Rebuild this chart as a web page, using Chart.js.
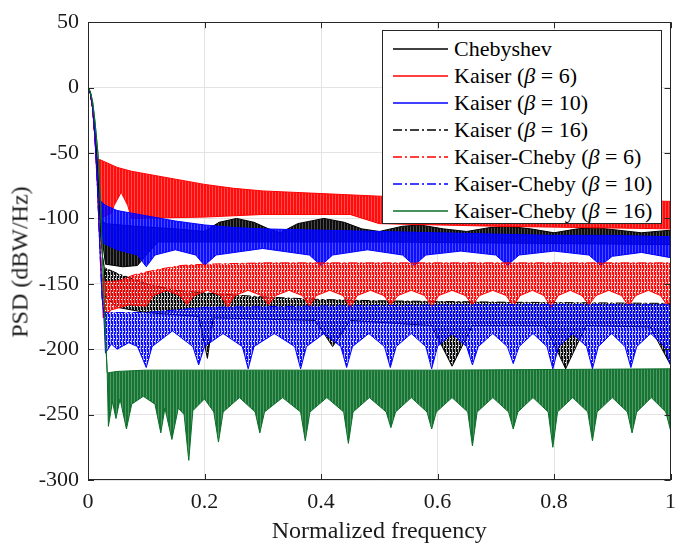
<!DOCTYPE html>
<html lang="en">
<head>
<meta charset="UTF-8">
<title>PSD comparison</title>
<script src="https://cdn.jsdelivr.net/npm/chart.js"></script>
<style>
    body { margin: 0; background: #fff; }
    .wrap { position: relative; width: 685px; height: 547px;
            font-family: "Liberation Serif", "Times New Roman", Times, Tinos, "Nimbus Roman", "DejaVu Serif", serif; color: #1a1a1a; }
    .legend { position: absolute; left: 382px; top: 30px; width: 280px; height: 194px; border: 1px solid #262626; background: #fff;
              font-size: 22px; color: #000; padding-top: 4px; box-sizing: border-box; white-space: nowrap; }
    .row { height: 27px; display: flex; align-items: center; }
    .row svg { margin-left: 10px; margin-right: 6px; flex: none; }
    .row i { font-style: italic; }
    .ytitle { position: absolute; left: 20px; top: 262px; font-size: 24px; white-space: nowrap;
              transform: translate(-50%, -50%) rotate(-90deg); }
</style>
</head>
<body>
<div class="wrap">
    <canvas id="c" width="685" height="547"></canvas>
    <div class="ytitle">PSD (dBW/Hz)</div>
    <div class="legend" id="legend"></div>
</div>
<script>
// axis ticks
const xTicks = [0, 0.2, 0.4, 0.6, 0.8, 1];
const xTickLabels = ['0', '0.2', '0.4', '0.6', '0.8', '1'];
const yTicks = [50, 0, -50, -100, -150, -200, -250, -300];

// [normalized frequency, dBW/Hz] - main lobe, upper edge and lower edge of each trace
const chebyLobe = [[0,0],[0.004,-4],[0.008,-16],[0.012,-38],[0.016,-65],[0.02,-100]];
const chebyTop = [[0.03,-104],[0.08,-106],[0.15,-108],[0.2,-110],[0.225,-103],[0.255,-100],[0.285,-103],[0.31,-108],[0.33,-111],
    [0.36,-104],[0.405,-100],[0.44,-103],[0.47,-108],[0.5,-110],[0.54,-106],[0.57,-105],[0.61,-108],[0.65,-110],[0.69,-107],
    [0.72,-106],[0.76,-108],[0.8,-111],[0.84,-108],[0.87,-107],[0.91,-109],[0.95,-111],[1.0,-109]];
const chebyLow = [[0.03,-135],[0.06,-137],[0.085,-136],[0.1,-128],[0.12,-118],[0.5,-118],[1.0,-120]];

const kaiser6Lobe = [[0,0],[0.004,-4],[0.008,-16],[0.012,-38],[0.016,-55]];
const kaiser6Top = [[0.02,-55],[0.03,-57],[0.05,-61],[0.075,-64],[0.1,-66],[0.15,-70],[0.2,-74],[0.25,-77],[0.3,-79],
    [0.4,-81],[0.5,-83],[0.6,-84],[0.7,-85],[0.8,-86],[0.9,-86],[1.0,-87]];
const kaiser6Low = [[0.02,-100],[0.04,-96],[0.045,-90],[0.057,-80],[0.068,-90],[0.075,-100],[0.2,-99],[0.3,-97],[0.45,-97],
    [0.5,-104],[0.7,-106],[1.0,-108]];

const kaiser10Lobe = [[0,0],[0.004,-4],[0.008,-15],[0.012,-36],[0.016,-62],[0.02,-86]];
const kaiser10Top = [[0.022,-87],[0.03,-90],[0.05,-94],[0.075,-96],[0.1,-98],[0.15,-102],[0.2,-105],[0.25,-107],[0.3,-108],
    [0.4,-109],[0.5,-110],[0.6,-111],[0.7,-112],[0.8,-113],[0.9,-113],[1.0,-114]];
const kaiser10Low = [[0.022,-118],[0.05,-124],[0.085,-128],[0.1,-137],[0.115,-128],[0.15,-124],[0.185,-128],[0.2,-136],
    [0.22,-128],[0.3,-123],[0.38,-128],[0.4,-136],[0.42,-128],[0.48,-124],[0.54,-128],[0.56,-136],[0.58,-128],[0.64,-125],
    [0.7,-128],[0.72,-136],[0.74,-128],[0.8,-125],[0.86,-128],[0.88,-136],[0.9,-129],[0.95,-126],[1.0,-130]];

const kaiser16Lobe = [[0,0],[0.004,-4],[0.008,-15],[0.012,-34],[0.016,-60],[0.02,-95],[0.025,-130],[0.028,-138]];
const kaiser16Top = [[0.03,-138],[0.05,-142],[0.1,-150],[0.15,-155],[0.2,-157],[0.3,-160],[0.4,-162],[0.5,-163],[0.7,-164],[1.0,-165]];
const kaiser16Low = [[0.03,-160],[0.05,-168],[0.1,-172],[0.19,-175],[0.205,-207],[0.215,-176],[0.39,-178],[0.42,-198],
    [0.45,-178],[0.59,-182],[0.625,-213],[0.66,-182],[0.785,-182],[0.82,-215],[0.855,-182],[0.965,-183],[1.0,-212]];

const kc6Lobe = [[0,0],[0.004,-4],[0.008,-16],[0.012,-40],[0.016,-75],[0.02,-115],[0.024,-145]];
const kc6Top = [[0.026,-148],[0.05,-148],[0.08,-143],[0.12,-139],[0.16,-136],[0.2,-135],[0.3,-134],[0.5,-134],[1.0,-134]];
const kc6Low = [[0.026,-176],[0.04,-170],[0.07,-166],
    [0.1,-167],[0.112,-159],[0.135,-155],[0.158,-159],
    [0.17,-166],[0.182,-159],[0.205,-155],[0.228,-159],
    [0.24,-168],[0.252,-159],[0.275,-155],[0.298,-159],
    [0.31,-166],[0.322,-159],[0.345,-155],[0.368,-159],
    [0.38,-167],[0.392,-159],[0.415,-155],[0.438,-159],
    [0.45,-168],[0.462,-159],[0.485,-155],[0.508,-159],
    [0.52,-166],[0.532,-159],[0.555,-155],[0.578,-159],
    [0.59,-167],[0.602,-159],[0.625,-155],[0.648,-159],
    [0.66,-166],[0.672,-159],[0.695,-155],[0.718,-159],
    [0.73,-167],[0.742,-159],[0.763,-155],[0.783,-159],
    [0.795,-168],[0.807,-159],[0.828,-155],[0.848,-159],
    [0.86,-166],[0.872,-159],[0.894,-155],[0.916,-159],
    [0.928,-167],[0.94,-159],[0.962,-155],[0.983,-159],
    [0.995,-167],[1.0,-162]];

const kc10Lobe = [[0,0],[0.004,-4],[0.008,-15],[0.012,-38],[0.016,-72],[0.02,-120],[0.024,-160],[0.027,-172]];
const kc10Top = [[0.03,-172],[0.1,-172],[0.2,-168],[0.4,-167],[0.7,-166],[1.0,-166]];
const kc10Low = [[0.03,-203],[0.04,-196],[0.05,-200],[0.07,-195],[0.085,-198],
    [0.1,-214],[0.11,-198],[0.145,-186],[0.18,-198],
    [0.19,-212],[0.2,-198],[0.232,-188],[0.265,-198],
    [0.275,-215],[0.285,-198],[0.32,-188],[0.355,-198],
    [0.365,-215],[0.375,-198],[0.405,-188],[0.434,-198],
    [0.444,-214],[0.454,-198],[0.482,-188],[0.509,-198],
    [0.519,-214],[0.529,-198],[0.555,-188],[0.58,-198],
    [0.59,-215],[0.6,-198],[0.625,-188],[0.65,-198],
    [0.66,-212],[0.67,-198],[0.695,-188],[0.72,-198],
    [0.73,-211],[0.74,-198],[0.764,-188],[0.788,-198],
    [0.798,-215],[0.808,-198],[0.832,-188],[0.856,-198],
    [0.866,-215],[0.876,-198],[0.899,-188],[0.922,-198],
    [0.932,-214],[0.942,-198],[0.966,-188],[0.99,-198],
    [1.0,-212]];

const kc16Lobe = [[0,0],[0.004,-3],[0.008,-11],[0.012,-26],[0.017,-50],[0.02,-75],[0.025,-130],[0.03,-190],[0.033,-218]];
const kc16Top = [[0.035,-218],[0.05,-217],[0.1,-216],[0.3,-216],[0.6,-216],[1.0,-215]];
const kc16Low = [[0.035,-259],[0.042,-240],[0.048,-253],[0.055,-238],[0.066,-261],[0.075,-242],[0.095,-236],[0.115,-242],
    [0.125,-264],[0.132,-245],[0.144,-269],[0.155,-245],[0.165,-250],[0.173,-285],[0.18,-247],[0.2,-238],[0.216,-248],
    [0.224,-271],[0.232,-248],[0.26,-237],[0.287,-248],[0.295,-264],[0.303,-248],[0.334,-237],[0.365,-248],
    [0.373,-270],[0.381,-248],[0.41,-237],[0.439,-248],[0.447,-272],[0.455,-248],[0.483,-237],[0.512,-248],
    [0.52,-260],[0.528,-248],[0.555,-237],[0.582,-248],[0.59,-261],[0.598,-248],[0.625,-237],[0.652,-248],
    [0.66,-274],[0.668,-248],[0.695,-237],[0.722,-248],[0.73,-261],[0.738,-248],[0.764,-237],[0.79,-248],
    [0.798,-275],[0.806,-248],[0.832,-237],[0.858,-248],[0.866,-270],[0.874,-248],[0.9,-237],[0.926,-248],
    [0.934,-264],[0.942,-248],[0.967,-237],[0.992,-248],[1.0,-262]];

// fine vertical hatching stands in for the dense ripple of each trace
function ripple(rgb, solid) {
    const c = document.createElement('canvas');
    c.width = 3; c.height = 7;
    const g = c.getContext('2d');
    g.fillStyle = 'rgba(' + rgb + ',0.95)';
    g.fillRect(0, 0, 2, 7);
    g.fillStyle = 'rgba(' + rgb + ',' + (solid ? 0.7 : 0.3) + ')';
    g.fillRect(2, 0, 1, 7);
    if (!solid) {
        g.clearRect(0, 2, 1, 1);
        g.clearRect(1, 5, 1, 1);
    }
    return g.createPattern(c, 'repeat');
}

const dashDot = [9, 3, 2, 3];
const traces = [
    { label: 'Chebyshev', html: 'Chebyshev', color: '#000000', rgb: '0,0,0', solid: true, dash: [], lobe: chebyLobe, top: chebyTop, low: chebyLow },
    { label: 'Kaiser (β = 6)', html: 'Kaiser (<i>β</i> = 6)', color: '#ff0000', rgb: '255,0,0', solid: true, dash: [], lobe: kaiser6Lobe, top: kaiser6Top, low: kaiser6Low },
    { label: 'Kaiser (β = 10)', html: 'Kaiser (<i>β</i> = 10)', color: '#0000ff', rgb: '0,0,255', solid: true, dash: [], lobe: kaiser10Lobe, top: kaiser10Top, low: kaiser10Low },
    { label: 'Kaiser (β = 16)', html: 'Kaiser (<i>β</i> = 16)', color: '#000000', rgb: '0,0,0', solid: false, dash: dashDot, lobe: kaiser16Lobe, top: kaiser16Top, low: kaiser16Low },
    { label: 'Kaiser-Cheby (β = 6)', html: 'Kaiser-Cheby (<i>β</i> = 6)', color: '#ff0000', rgb: '255,0,0', solid: false, dash: dashDot, lobe: kc6Lobe, top: kc6Top, low: kc6Low },
    { label: 'Kaiser-Cheby (β = 10)', html: 'Kaiser-Cheby (<i>β</i> = 10)', color: '#0000ff', rgb: '0,0,255', solid: false, dash: dashDot, lobe: kc10Lobe, top: kc10Top, low: kc10Low },
    { label: 'Kaiser-Cheby (β = 16)', html: 'Kaiser-Cheby (<i>β</i> = 16)', color: '#0a6e28', rgb: '10,110,40', solid: true, dash: [], lobe: kc16Lobe, top: kc16Top, low: kc16Low }
];

const pts = arr => arr.map(([x, y]) => ({ x, y }));
const datasets = [];
traces.forEach(t => {
    datasets.push({ label: t.label, data: pts(t.lobe.concat(t.top)), borderColor: t.color, borderWidth: 1, borderDash: t.dash,
        backgroundColor: ripple(t.rgb, t.solid), fill: '+1', pointRadius: 0, tension: 0 });
    datasets.push({ label: '', data: pts(t.lobe.concat(t.low)), borderColor: t.color, borderWidth: 1,
        fill: false, pointRadius: 0, tension: 0 });
});
// later traces are painted over earlier ones
datasets.forEach((d, i) => d.order = 100 - i);

const serif = '"Liberation Serif", "Times New Roman", Times, Tinos, "Nimbus Roman", "DejaVu Serif", serif';

const frame = {
    id: 'frame',
    afterDatasetsDraw(chart) {
        const { ctx, chartArea: a, scales: { x, y } } = chart;
        ctx.save();
        ctx.strokeStyle = '#262626';
        ctx.lineWidth = 1;
        ctx.beginPath();
        xTicks.forEach(v => {
            const px = Math.round(x.getPixelForValue(v)) + 0.5;
            ctx.moveTo(px, a.bottom); ctx.lineTo(px, a.bottom - 6);
            ctx.moveTo(px, a.top); ctx.lineTo(px, a.top + 6);
        });
        yTicks.forEach(v => {
            const py = Math.round(y.getPixelForValue(v)) + 0.5;
            ctx.moveTo(a.left, py); ctx.lineTo(a.left + 6, py);
            ctx.moveTo(a.right, py); ctx.lineTo(a.right - 6, py);
        });
        ctx.stroke();
        ctx.strokeRect(Math.round(a.left) + 0.5, Math.round(a.top) + 0.5, Math.round(a.right - a.left) - 1, Math.round(a.bottom - a.top) - 1);
        ctx.restore();
    }
};

new Chart(document.getElementById('c'), {
    type: 'line',
    data: { datasets },
    options: {
        responsive: false,
        animation: false,
        devicePixelRatio: 1,
        layout: { padding: { top: 13, right: 7, left: 0, bottom: 0 } },
        plugins: { legend: { display: false }, tooltip: { enabled: false } },
        scales: {
            x: {
                type: 'linear', min: 0, max: 1,
                afterBuildTicks: s => { s.ticks = xTicks.map(v => ({ value: v })); },
                afterFit: s => { s.height = 67; },
                ticks: { font: { family: serif, size: 22 }, color: '#1a1a1a', padding: 9, maxRotation: 0,
                    callback: (v, i) => xTickLabels[i] },
                grid: { color: '#e3e3e3', drawTicks: false },
                border: { display: false },
                title: { display: true, text: 'Normalized frequency', font: { family: serif, size: 24 }, color: '#1a1a1a', padding: { bottom: 1 } }
            },
            y: {
                type: 'linear', min: -300, max: 50,
                afterBuildTicks: s => { s.ticks = yTicks.map(v => ({ value: v })); },
                afterFit: s => { s.width = 88; },
                ticks: { font: { family: serif, size: 22 }, color: '#1a1a1a', padding: 9 },
                grid: { color: '#e3e3e3', drawTicks: false },
                border: { display: false }
            }
        }
    },
    plugins: [frame]
});

// legend box drawn in the upper right of the plot
const legend = document.getElementById('legend');
traces.forEach(t => {
    const row = document.createElement('div');
    row.className = 'row';
    const dash = t.dash.length ? ' stroke-dasharray="' + t.dash.join(' ') + '"' : '';
    row.innerHTML = '<svg width="55" height="4"><line x1="0" y1="2" x2="55" y2="2" stroke="' + t.color + '" stroke-width="1.5"' + dash + '/></svg><span>' + t.html + '</span>';
    legend.appendChild(row);
});
</script>
</body>
</html>
